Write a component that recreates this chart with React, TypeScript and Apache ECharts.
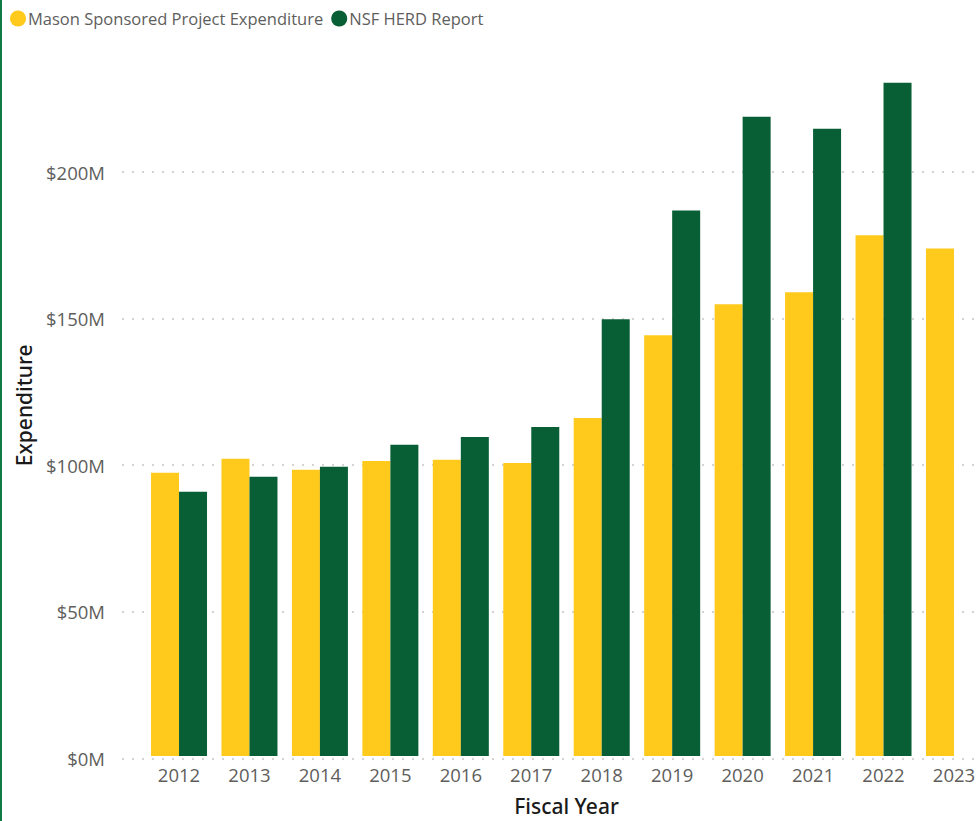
import React, { useEffect, useRef } from "react";
import * as echarts from "echarts";

const years = ["2012", "2013", "2014", "2015", "2016", "2017", "2018", "2019", "2020", "2021", "2022", "2023"];
const masonExpenditure = [96.9, 101.7, 98.0, 101.0, 101.4, 100.3, 115.7, 144.0, 154.6, 158.7, 178.2, 173.7];
const nsfHerd = [90.4, 95.6, 99.0, 106.5, 109.2, 112.6, 149.5, 186.7, 218.8, 214.7, 230.4, null];
const seriesNames = ["Mason Sponsored Project Expenditure", "NSF HERD Report"];
const yTicks = { min: 0, max: 200, interval: 50 };

const YELLOW = "#FFCA1C";
const GREEN = "#085E35";
const LABEL = "#605E5C";
const TITLE = "#1a1a1a";

const CHART_W = 1010;

export default function App() {
  const ref = useRef<HTMLDivElement>(null);
  useEffect(() => {
    if (!ref.current) return;
    const chart = echarts.init(ref.current, undefined, { renderer: "svg" });
    const pxPerM = (758.3 - 172) / 200;
    const barMax = 240;
    chart.setOption({
      animation: false,
      backgroundColor: "#ffffff",
      legend: {
        left: 5,
        top: 5,
        icon: "circle",
        itemWidth: 16,
        itemHeight: 16,
        itemGap: 8,
        data: seriesNames,
        textStyle: { fontFamily: "Open Sans", fontSize: 16.5, color: LABEL, padding: [0, 0, 0, -3] },
      },
      graphic: [
        { type: "rect", left: 0, top: 0, shape: { x: 0, y: 0, width: 2, height: 821 }, style: { fill: "#127a45" } },
      ],
      grid: [
        { left: 122, right: CHART_W - 975, top: 172, bottom: 821 - 758.3, containLabel: false },
        { left: 143.8, width: 845.4, top: 758.3 - barMax * pxPerM, bottom: 821 - 758.3, containLabel: false },
      ],
      xAxis: [
        { type: "value", gridIndex: 0, show: false, min: 0, max: 1 },
        {
          type: "category",
          gridIndex: 1,
          data: years,
          axisLine: { show: false },
          axisTick: { show: false },
          axisLabel: { color: LABEL, fontFamily: "Open Sans", fontSize: 18.5, margin: 9 },
          name: "Fiscal Year",
          nameLocation: "middle",
          nameGap: 39,
          nameTextStyle: { color: TITLE, fontFamily: "Noto Sans", fontSize: 21, fontWeight: 500 },
        },
      ],
      yAxis: [
        {
          type: "value",
          gridIndex: 0,
          min: yTicks.min,
          max: yTicks.max,
          interval: yTicks.interval,
          axisLine: { show: false },
          axisTick: { show: false },
          axisLabel: {
            color: LABEL,
            fontFamily: "Open Sans",
            fontSize: 18.5,
            margin: 17,
            formatter: (v: number) => `$${v}M`,
          },
          splitLine: { show: true, lineStyle: { color: "#C8C6C4", width: 1.5, type: [2, 8] } },
        },
        {
          type: "value",
          gridIndex: 1,
          min: 0,
          max: barMax,
          axisLine: { show: false },
          axisTick: { show: false },
          axisLabel: { show: false },
          splitLine: { show: false },
          name: "Expenditure",
          nameLocation: "middle",
          nameGap: 109,
          nameTextStyle: { color: TITLE, fontFamily: "Noto Sans", fontSize: 21, fontWeight: 500 },
        },
      ],
      series: [
        {
          name: seriesNames[0],
          type: "bar",
          xAxisIndex: 1,
          yAxisIndex: 1,
          data: masonExpenditure,
          barWidth: 28,
          barGap: "0%",
          itemStyle: { color: YELLOW },
        },
        {
          name: seriesNames[1],
          type: "bar",
          xAxisIndex: 1,
          yAxisIndex: 1,
          data: nsfHerd,
          barWidth: 28,
          barGap: "0%",
          itemStyle: { color: GREEN },
        },
      ],
    });
    return () => chart.dispose();
  }, []);
  return (
    <div style={{ position: "absolute", left: 0, top: 0, width: 978, height: 821, overflow: "hidden" }}>
      <div ref={ref} style={{ width: CHART_W, height: 821 }} />
    </div>
  );
}
